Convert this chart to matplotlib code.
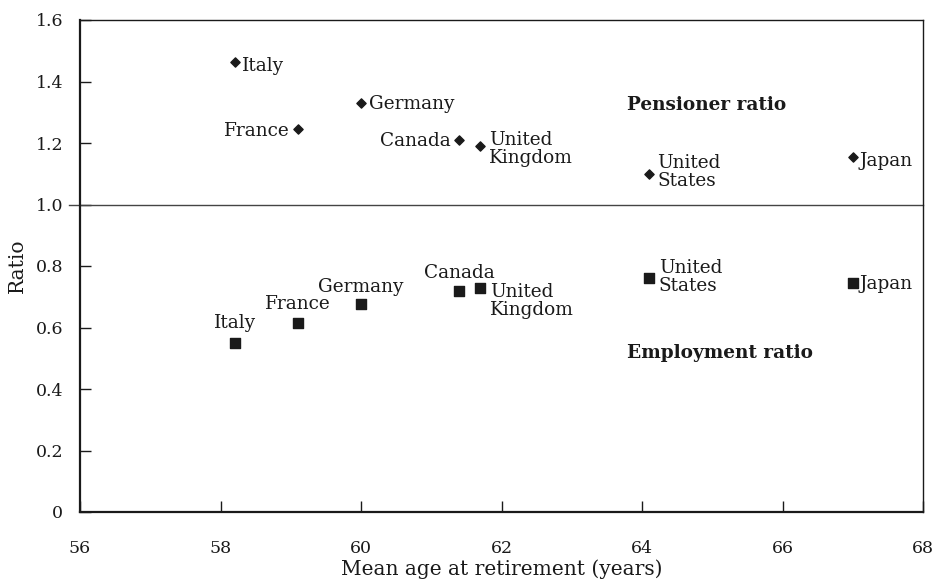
import matplotlib.pyplot as plt

# =========================
# 数据
countries = ["Italy", "France", "Germany", "Canada", "United\nKingdom", "United\nStates", "Japan"]
retire_age = [58.2, 59.1, 60.0, 61.4, 61.7, 64.1, 67.0]
pensioner_ratio = [1.465, 1.245, 1.33, 1.21, 1.19, 1.10, 1.155]
employment_ratio = [0.55, 0.615, 0.675, 0.72, 0.73, 0.76, 0.745]

# label offsets (points) and alignment
pens_off = [(5, -3, "left", "center"), (-6, -1, "right", "center"), (6, -1, "left", "center"),
            (-6, -1, "right", "center"), (6, 11, "left", "top"), (6, 14, "left", "top"),
            (5, -3, "left", "center")]
emp_off = [(0, 8, "center", "bottom"), (0, 7, "center", "bottom"), (0, 6, "center", "bottom"),
           (0, 6, "center", "bottom"), (7, 3, "left", "top"), (7, 14, "left", "top"),
           (5, -1, "left", "center")]

plt.rcParams["font.family"] = ["DejaVu Serif"]
plt.rcParams["font.size"] = 12.5

fig = plt.figure(figsize=(9.37, 5.81), dpi=100)
ax = fig.add_axes([80 / 937, 1 - 512 / 581, (923 - 80) / 937, (512 - 20) / 581])

ink = "#1a1a1a"
ax.scatter(retire_age, pensioner_ratio, marker="D", s=22, color=ink, zorder=3)
ax.scatter(retire_age, employment_ratio, marker="s", s=50, color=ink, zorder=3)

for i, name in enumerate(countries):
    dx, dy, ha, va = pens_off[i]
    ax.annotate(name, (retire_age[i], pensioner_ratio[i]), xytext=(dx, dy), fontsize=13.3,
                textcoords="offset points", ha=ha, va=va, color=ink, linespacing=1.0)
    dx, dy, ha, va = emp_off[i]
    ax.annotate(name, (retire_age[i], employment_ratio[i]), xytext=(dx, dy), fontsize=13.3,
                textcoords="offset points", ha=ha, va=va, color=ink, linespacing=1.0)

ax.text(63.78, 1.324, "Pensioner ratio", fontsize=13.3, fontweight="bold",
        ha="left", va="center", color=ink)
ax.text(63.78, 0.517, "Employment ratio", fontsize=13.3, fontweight="bold",
        ha="left", va="center", color=ink)

# 1.0 reference line
ax.plot([55.85, 68], [1.0, 1.0], color="#444444", lw=1.0, clip_on=False, zorder=2)

ax.set_xlim(56, 68)
ax.set_ylim(0, 1.6)
ax.set_xticks(range(56, 69, 2))
ax.set_yticks([0, 0.2, 0.4, 0.6, 0.8, 1.0, 1.2, 1.4, 1.6])
ax.set_yticklabels(["0", "0.2", "0.4", "0.6", "0.8", "1.0", "1.2", "1.4", "1.6"])
ax.tick_params(direction="in", length=8, width=1, color=ink, labelcolor=ink)
ax.tick_params(axis="y", pad=12)
ax.tick_params(axis="x", pad=20)

ax.spines["left"].set_linewidth(1.6)
ax.spines["bottom"].set_linewidth(1.6)
ax.spines["top"].set_linewidth(1.0)
ax.spines["right"].set_linewidth(1.0)
for s in ax.spines.values():
    s.set_color(ink)

ax.set_xlabel("Mean age at retirement (years)", color=ink, fontsize=14.5, labelpad=2)
ax.set_ylabel("Ratio", color=ink, fontsize=14.5, labelpad=6)

fig.savefig("out.png", dpi=100)
